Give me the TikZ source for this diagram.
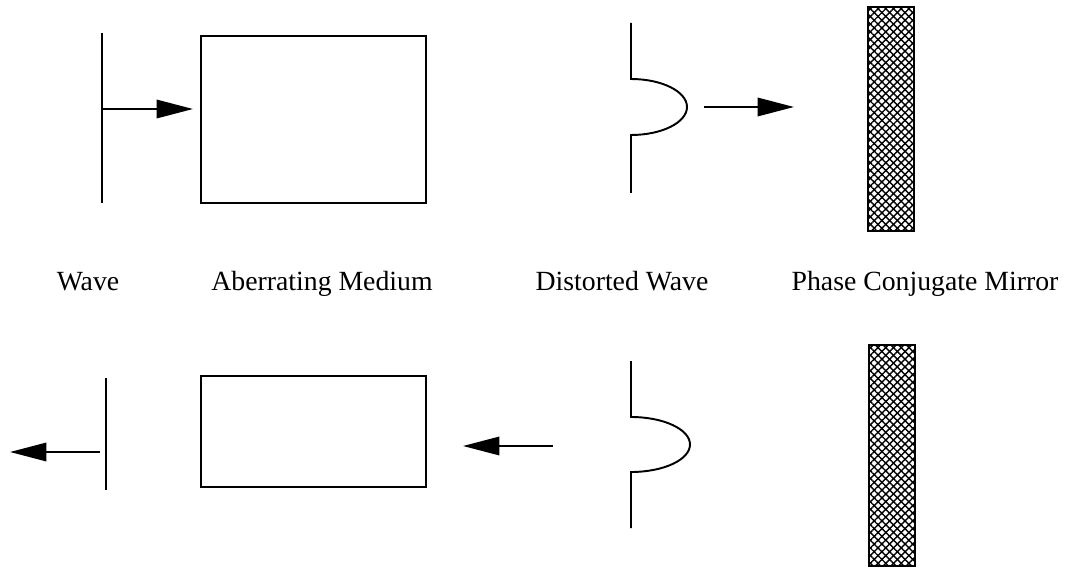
\documentclass[tikz,border=0pt]{standalone}
\usepackage{fontspec}
\setmainfont{Liberation Serif}
\usetikzlibrary{arrows.meta,patterns.meta}

\begin{document}
\begin{tikzpicture}[x=0.02cm,y=-0.02cm,
  optic/.style={line width=1.1pt},
  ray/.style={line width=1.1pt,-{Triangle[length=0.73cm,width=0.37cm]}},
  caption/.style={anchor=base,inner sep=0pt,font=\fontsize{15.8}{19}\selectfont}]
  \useasboundingbox (0,0) rectangle (1069,571);
  % incoming plane wave and medium
  \draw[optic] (102,33) -- (102,203);
  \draw[optic] (201,36) rectangle (426,203);
  \coordinate (waveIn) at (102,109);
  \coordinate (mediumIn) at (193,109);
  \draw[ray] (waveIn) -- (mediumIn);
  % distorted wave heading to the mirror
  \draw[optic] (631,23) -- (631,79)
    arc[start angle=-90,end angle=90,x radius=56,y radius=28] -- (631,193);
  \coordinate (distOut) at (704,107);
  \coordinate (mirrorIn) at (794,107);
  \draw[ray] (distOut) -- (mirrorIn);
  \fill[pattern={Lines[angle=45,distance=3.1pt,line width=0.8pt]}] (868,7) rectangle (914,231);
  \fill[pattern={Lines[angle=-45,distance=3.1pt,line width=0.8pt]}] (868,7) rectangle (914,231);
  \draw[line width=1.4pt] (868,7) rectangle (914,231);
  % labels
  \node[caption] (waveLbl) at (88,290) {Wave};
  \node[caption] (mediumLbl) at (322,290) {Aberrating Medium};
  \node[caption] (distLbl) at (622,290) {Distorted Wave};
  \node[caption] (mirrorLbl) at (925,290) {Phase Conjugate Mirror};
  % conjugate wave going back
  \draw[optic] (106,378) -- (106,490);
  \draw[optic] (201,376) rectangle (426,487);
  \coordinate (waveBack) at (100,452);
  \coordinate (waveOut) at (10,452);
  \draw[ray] (waveBack) -- (waveOut);
  \draw[optic] (631,361) -- (631,417)
    arc[start angle=-90,end angle=90,x radius=59,y radius=27.5] -- (631,528);
  \coordinate (distBack) at (553,446);
  \coordinate (mediumBack) at (463,446);
  \draw[ray] (distBack) -- (mediumBack);
  \fill[pattern={Lines[angle=45,distance=3.1pt,line width=0.8pt]}] (869,345) rectangle (915,566);
  \fill[pattern={Lines[angle=-45,distance=3.1pt,line width=0.8pt]}] (869,345) rectangle (915,566);
  \draw[line width=1.4pt] (869,345) rectangle (915,566);
\end{tikzpicture}
\end{document}
